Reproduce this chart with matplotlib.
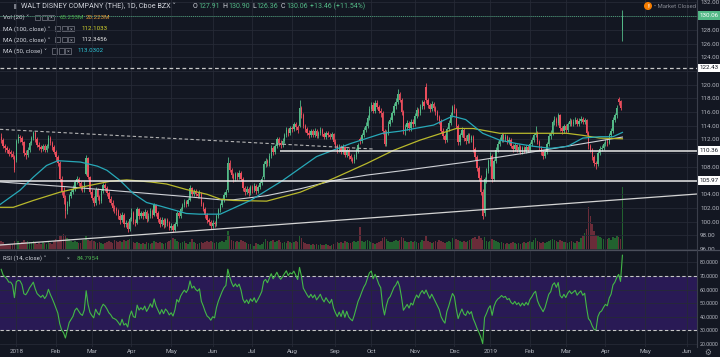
import numpy as np
import pandas as pd
import matplotlib
matplotlib.use("Agg")
import matplotlib.pyplot as plt
from matplotlib.patches import Rectangle
from matplotlib.lines import Line2D
from matplotlib.transforms import blended_transform_factory

plt.rcParams['font.family'] = ['Roboto', 'DejaVu Sans']

# ---------------- data (daily bars, 2017-12-19 .. 2019-04-12) ----------------
opens = [112.4, 111.9, 111.0, 110.7, 110.4, 110.1, 109.9, 109.5, 109.0, 111.8,
         112.3, 112.2, 111.6, 110.0, 109.8, 110.5, 111.5, 112.2, 113.0, 112.0,
         111.2, 110.9, 110.6, 111.0, 110.5, 111.0, 112.2, 111.5, 110.9, 110.2,
         109.4, 108.5, 106.2, 104.4, 103.5, 101.5, 102.6, 103.8, 104.3, 104.8,
         105.8, 106.2, 105.6, 105.0, 104.7, 107.0, 109.3, 106.5, 104.4, 103.5,
         102.8, 104.6, 103.6, 103.0, 104.5, 105.3, 104.9, 104.2, 103.3, 102.8,
         102.0, 101.8, 101.5, 100.9, 100.2, 101.0, 99.6, 99.8, 98.9, 100.4,
         101.2, 100.0, 99.8, 101.8, 100.8, 101.2, 100.8, 101.4, 100.4, 100.9,
         101.6, 101.0, 102.4, 101.2, 100.4, 99.6, 100.3, 99.5, 100.2, 99.8,
         99.1, 99.4, 98.8, 99.6, 101.2, 100.8, 101.8, 102.4, 102.9, 102.6,
         103.2, 104.9, 104.0, 104.4, 104.0, 103.8, 104.2, 102.6, 101.9, 101.0,
         100.2, 99.9, 99.4, 99.8, 99.6, 100.8, 101.7, 102.4, 103.2, 103.9,
         104.6, 108.6, 107.6, 106.8, 106.2, 106.9, 106.5, 107.1, 106.3, 104.9,
         104.3, 104.8, 104.2, 105.0, 104.6, 105.2, 104.5, 105.0, 105.6, 106.5,
         108.4, 108.9, 108.5, 109.6, 110.8, 110.2, 111.0, 112.0, 111.5, 111.2,
         111.8, 112.6, 113.4, 112.9, 113.6, 113.5, 114.2, 113.8, 114.0, 116.6,
         115.6, 114.0, 113.5, 113.0, 112.6, 113.2, 112.7, 113.2, 112.5, 112.9,
         113.4, 112.8, 112.4, 113.0, 112.6, 112.3, 112.8, 111.7, 111.0, 110.4,
         110.9, 110.2, 110.9, 109.8, 110.5, 109.6, 109.2, 108.9, 109.5, 110.3,
         112.1, 111.8, 112.6, 113.4, 114.0, 115.2, 116.5, 117.0, 116.2, 117.3,
         116.8, 116.2, 115.8, 113.2, 111.4, 113.0, 114.3, 114.8, 115.8, 116.9,
         117.5, 118.6, 117.8, 116.0, 113.2, 113.8, 114.4, 113.6, 114.6, 114.2,
         115.4, 116.3, 115.8, 116.8, 117.4, 119.6, 117.7, 117.0, 116.4, 117.2,
         116.6, 116.0, 115.3, 114.7, 113.3, 112.5, 111.9, 113.5, 114.4, 115.6,
         116.8, 116.3, 114.0, 111.6, 112.6, 113.4, 112.2, 111.8, 112.6, 111.9,
         112.3, 110.6, 109.4, 107.8, 106.4, 104.4, 101.2, 106.3, 107.4, 108.8,
         109.6, 106.2, 108.9, 110.5, 111.4, 111.9, 112.6, 112.1, 112.4, 111.6,
         111.9, 111.0, 110.6, 111.2, 110.5, 110.9, 110.2, 110.8, 110.3, 110.9,
         110.4, 111.4, 111.9, 112.6, 113.0, 111.6, 110.8, 110.2, 109.6, 110.2,
         111.3, 112.5, 113.0, 114.5, 115.0, 114.4, 115.5, 113.6, 113.2, 113.9,
         113.4, 114.2, 114.7, 114.3, 114.6, 114.9, 114.3, 114.7, 115.0, 114.5,
         114.8, 113.0, 111.0, 110.5, 109.4, 108.5, 108.4, 110.0, 110.6, 110.8,
         111.3, 111.7, 111.5, 112.6, 113.2, 114.9, 115.5, 117.9, 117.6, 127.91]

highs = [112.9, 112.2, 111.4, 111.1, 110.7, 110.5, 110.3, 109.7, 112.0, 112.8,
         112.7, 112.5, 111.8, 110.4, 110.9, 111.8, 112.5, 113.3, 113.2, 112.3,
         111.6, 111.2, 111.4, 111.3, 111.4, 112.6, 112.5, 111.8, 111.2, 110.5,
         109.7, 108.8, 106.6, 105.0, 103.9, 103.0, 104.1, 104.8, 105.3, 106.1,
         106.6, 106.5, 105.9, 105.3, 105.9, 109.8, 109.5, 106.7, 104.8, 103.8,
         105.0, 104.9, 103.9, 104.8, 105.7, 105.6, 105.2, 104.5, 103.7, 103.1,
         102.4, 102.1, 101.8, 101.2, 101.4, 101.3, 100.3, 100.1, 100.7, 102.0,
         101.5, 100.4, 102.1, 102.0, 101.6, 101.5, 101.8, 101.7, 101.3, 102.0,
         101.9, 102.7, 102.6, 101.5, 100.7, 100.7, 100.6, 100.6, 100.5, 100.1,
         99.8, 99.7, 99.9, 101.5, 101.6, 102.1, 102.8, 103.3, 103.2, 103.5,
         105.3, 105.1, 104.8, 104.7, 104.3, 104.6, 104.4, 102.9, 102.1, 101.3,
         100.6, 100.2, 100.2, 100.1, 101.1, 102.0, 102.7, 103.5, 104.3, 104.7,
         109.4, 109.0, 107.9, 107.1, 107.3, 107.2, 107.5, 107.4, 106.5, 105.2,
         105.2, 105.1, 105.4, 105.3, 105.6, 105.5, 105.4, 106.0, 106.7, 108.8,
         109.3, 109.2, 110.0, 111.2, 111.1, 111.4, 112.4, 112.3, 111.9, 112.2,
         113.0, 113.8, 113.7, 114.0, 114.0, 114.6, 114.5, 114.1, 117.8, 116.9,
         115.9, 114.3, 113.8, 113.4, 113.5, 113.5, 113.6, 113.5, 113.3, 113.8,
         113.7, 113.1, 113.3, 113.3, 112.9, 113.1, 113.0, 112.0, 111.3, 111.3,
         111.2, 111.3, 111.1, 110.8, 110.8, 109.9, 109.5, 109.9, 110.7, 111.5,
         112.4, 113.0, 113.8, 114.5, 115.6, 116.9, 117.5, 117.4, 117.8, 117.7,
         117.1, 116.6, 116.1, 113.5, 113.4, 114.7, 115.3, 116.2, 117.3, 118.0,
         119.4, 118.9, 118.1, 116.3, 114.3, 114.9, 114.7, 115.0, 115.0, 115.8,
         116.7, 116.6, 117.2, 117.8, 117.7, 120.2, 118.0, 117.3, 117.6, 117.5,
         116.9, 116.3, 115.6, 115.0, 113.6, 112.8, 113.8, 114.8, 116.0, 117.1,
         117.2, 116.6, 114.3, 113.0, 113.8, 113.7, 112.6, 113.0, 112.9, 112.7,
         112.6, 110.9, 109.8, 108.1, 106.8, 104.7, 106.5, 107.8, 109.1, 110.1,
         109.9, 109.2, 110.9, 111.8, 112.3, 113.0, 112.9, 112.8, 112.7, 112.3,
         112.2, 111.3, 111.5, 111.4, 111.3, 111.2, 111.1, 111.1, 111.2, 111.2,
         111.7, 112.3, 113.0, 114.0, 113.3, 111.9, 111.1, 110.5, 110.5, 111.6,
         112.9, 113.4, 114.9, 115.4, 115.3, 115.9, 115.7, 113.9, 114.3, 114.2,
         114.6, 115.1, 115.0, 115.0, 115.3, 115.2, 115.1, 115.4, 115.3, 115.2,
         115.0, 113.3, 111.4, 110.8, 109.7, 108.9, 110.3, 111.0, 111.2, 111.7,
         112.0, 112.0, 112.9, 113.6, 115.3, 115.9, 117.0, 118.2, 117.8, 130.90]

lows = [111.5, 110.7, 110.2, 110.0, 109.6, 109.5, 109.1, 107.2, 108.7, 111.5,
        111.7, 111.2, 109.6, 109.2, 109.5, 110.2, 111.2, 111.9, 111.7, 110.9,
        110.5, 110.2, 110.3, 110.1, 110.2, 110.8, 111.2, 110.5, 109.9, 108.9,
        108.1, 105.8, 103.9, 102.6, 100.6, 101.1, 102.3, 103.4, 104.0, 104.5,
        105.5, 105.2, 104.6, 104.3, 104.4, 106.8, 106.2, 104.0, 103.1, 102.3,
        102.5, 103.2, 102.6, 102.7, 104.2, 104.5, 103.8, 102.9, 102.4, 101.6,
        101.3, 101.0, 100.4, 99.7, 99.9, 99.2, 99.2, 98.5, 98.6, 100.1,
        99.6, 99.3, 99.6, 100.4, 100.5, 100.4, 100.5, 100.0, 100.1, 100.6,
        100.6, 100.8, 100.9, 100.0, 99.2, 99.3, 99.1, 99.2, 99.4, 98.8,
        98.8, 98.5, 98.6, 99.4, 100.5, 100.6, 101.5, 102.1, 102.2, 102.3,
        103.0, 103.7, 103.7, 103.7, 103.4, 103.5, 102.3, 101.5, 100.6, 99.8,
        99.5, 99.0, 99.1, 99.2, 99.4, 100.5, 101.4, 102.1, 102.9, 103.6,
        104.4, 107.2, 106.4, 105.8, 105.9, 106.1, 106.2, 105.9, 104.5, 103.9,
        104.0, 103.8, 103.9, 104.2, 104.3, 104.1, 104.2, 104.7, 105.3, 106.2,
        108.0, 108.1, 108.2, 109.3, 109.8, 109.9, 110.7, 111.1, 110.8, 110.9,
        111.5, 112.3, 112.5, 112.6, 113.1, 113.2, 113.4, 113.0, 113.8, 115.2,
        113.6, 113.1, 112.6, 112.2, 112.3, 112.4, 112.4, 112.2, 112.2, 112.6,
        112.5, 112.0, 112.1, 112.3, 112.0, 112.0, 111.4, 110.7, 110.0, 110.1,
        109.9, 109.9, 109.5, 109.5, 109.2, 108.9, 108.6, 108.6, 109.2, 110.0,
        111.4, 111.5, 112.3, 113.1, 113.7, 114.9, 116.1, 115.8, 115.9, 116.4,
        115.8, 115.3, 112.8, 111.0, 111.1, 112.7, 113.9, 114.5, 115.5, 116.5,
        117.2, 117.4, 115.6, 112.8, 112.6, 113.4, 113.2, 113.3, 113.8, 113.9,
        115.1, 115.4, 115.5, 116.4, 116.5, 117.3, 116.6, 116.0, 116.1, 116.2,
        115.6, 114.9, 114.3, 112.9, 112.1, 111.5, 111.7, 113.2, 114.1, 115.3,
        115.9, 113.6, 111.2, 111.2, 112.3, 111.8, 111.4, 111.5, 111.5, 111.6,
        110.2, 109.0, 107.4, 105.9, 103.9, 100.4, 100.9, 105.6, 107.1, 108.2,
        105.8, 106.0, 108.6, 110.2, 111.0, 111.6, 111.7, 111.8, 111.3, 111.3,
        110.7, 110.2, 110.3, 110.1, 110.2, 109.9, 109.9, 110.0, 110.0, 110.1,
        110.1, 111.1, 111.6, 112.3, 111.3, 110.4, 109.8, 109.2, 109.3, 109.9,
        111.0, 112.1, 112.7, 114.1, 114.0, 114.1, 113.2, 112.8, 112.9, 113.0,
        113.1, 113.9, 113.9, 114.0, 114.3, 114.0, 114.0, 114.4, 114.2, 114.2,
        112.6, 110.6, 110.1, 109.0, 108.1, 107.7, 108.2, 109.7, 110.3, 110.5,
        111.0, 111.1, 111.3, 112.3, 113.0, 114.6, 115.2, 117.0, 116.3, 126.36]

closes = [111.9, 111.0, 110.7, 110.4, 109.9, 109.9, 109.5, 107.5, 111.8, 112.3,
          112.2, 111.6, 110.0, 109.8, 110.5, 111.5, 112.2, 113.0, 112.0, 111.2,
          110.9, 110.6, 111.0, 110.5, 111.0, 112.2, 111.5, 110.9, 110.2, 109.4,
          108.5, 106.2, 104.4, 103.5, 101.5, 102.6, 103.8, 104.3, 104.8, 105.8,
          106.2, 105.6, 105.0, 104.7, 105.5, 109.3, 106.5, 104.4, 103.5, 102.8,
          104.6, 103.6, 103.0, 104.5, 105.3, 104.9, 104.2, 103.3, 102.8, 102.0,
          101.8, 101.5, 100.9, 100.2, 101.0, 99.6, 99.8, 98.9, 100.4, 101.2,
          100.0, 99.8, 101.8, 100.8, 101.2, 100.8, 101.4, 100.4, 100.9, 101.6,
          101.0, 102.4, 101.2, 100.4, 99.6, 100.3, 99.5, 100.2, 99.8, 99.1,
          99.4, 98.8, 99.6, 101.2, 100.8, 101.8, 102.4, 102.9, 102.6, 103.2,
          104.9, 104.0, 104.4, 104.0, 103.8, 104.2, 102.6, 101.9, 101.0, 100.2,
          99.9, 99.4, 99.8, 99.6, 100.8, 101.7, 102.4, 103.2, 103.9, 104.3,
          108.6, 107.6, 106.8, 106.2, 106.9, 106.5, 107.1, 106.3, 104.9, 104.3,
          104.8, 104.2, 105.0, 104.6, 105.2, 104.5, 105.0, 105.6, 106.3, 108.4,
          108.9, 108.5, 109.6, 110.8, 110.2, 111.0, 112.0, 111.5, 111.2, 111.8,
          112.6, 113.4, 112.9, 113.6, 113.5, 114.2, 113.8, 113.4, 116.6, 115.6,
          114.0, 113.5, 113.0, 112.6, 113.2, 112.7, 113.2, 112.5, 112.9, 113.4,
          112.8, 112.4, 113.0, 112.6, 112.3, 112.8, 111.7, 111.0, 110.4, 110.9,
          110.2, 110.9, 109.8, 110.5, 109.6, 109.2, 108.9, 109.5, 110.3, 111.2,
          111.8, 112.6, 113.4, 114.0, 115.2, 116.5, 117.0, 116.2, 117.3, 116.8,
          116.2, 115.8, 113.2, 111.4, 113.0, 114.3, 114.8, 115.8, 116.9, 117.5,
          118.6, 117.8, 116.0, 113.2, 113.8, 114.4, 113.6, 114.6, 114.2, 115.4,
          116.3, 115.8, 116.8, 117.4, 116.9, 117.7, 117.0, 116.4, 117.2, 116.6,
          116.0, 115.3, 114.7, 113.3, 112.5, 111.9, 113.5, 114.4, 115.6, 116.8,
          116.3, 114.0, 111.6, 112.6, 113.4, 112.2, 111.8, 112.6, 111.9, 112.3,
          110.6, 109.4, 107.8, 106.4, 104.4, 100.9, 106.3, 107.4, 108.8, 109.6,
          106.2, 108.9, 110.5, 111.4, 111.9, 112.6, 112.1, 112.4, 111.6, 111.9,
          111.0, 110.6, 111.2, 110.5, 110.9, 110.2, 110.8, 110.3, 110.9, 110.4,
          111.4, 111.9, 112.6, 113.0, 111.6, 110.8, 110.2, 109.6, 110.2, 111.3,
          112.5, 113.0, 114.5, 115.0, 114.4, 115.5, 113.6, 113.2, 113.9, 113.4,
          114.2, 114.7, 114.3, 114.6, 114.9, 114.3, 114.7, 115.0, 114.5, 114.8,
          113.0, 111.0, 110.5, 109.4, 108.5, 108.4, 110.0, 110.6, 110.8, 111.3,
          111.7, 111.5, 112.6, 113.2, 114.9, 115.5, 116.6, 117.4, 116.6, 130.06]

volumes_m = [9, 8, 6, 5, 6, 5, 6, 9,
             11, 9, 7, 8, 10, 8, 9, 8, 7, 9, 7, 6, 7, 6, 8, 7, 6, 8, 7, 6, 9, 11, 10,
             14, 15, 17, 16, 12, 11, 9, 8, 9, 8, 7, 7, 10, 10, 15, 10, 9, 10,
             9, 8, 7, 8, 7, 6, 7, 8, 9, 8, 7, 10, 9, 8, 9, 8, 10, 9, 10, 11,
             9, 8, 7, 8, 7, 6, 7, 6, 8, 7, 6, 7, 9, 8, 7, 8, 7, 6, 7, 8, 9,
             10, 12, 11, 9, 8, 7, 8, 9, 7, 6, 8, 11, 8, 7, 6, 7, 8, 7, 8, 9, 8, 9,
             8, 7, 8, 7, 8, 9, 8, 10, 20, 15, 10, 9, 8, 9, 8, 10, 9, 8, 7, 6, 6,
             5, 4, 7, 6, 5, 6, 8, 11, 9, 8, 9, 10, 8, 9, 10, 8, 7, 8, 7, 9, 8,
             7, 8, 9, 8, 14, 12, 8, 7, 6, 6, 5, 6, 5, 6, 5, 6, 5, 5, 6, 5, 4, 5, 6,
             7, 8, 7, 8, 7, 9, 8, 7, 7, 8, 9, 8, 9, 24, 9, 8, 9, 10, 9,
             8, 7, 6, 7, 8, 9, 12, 13, 11, 9, 8, 8, 9, 10, 9, 10, 13, 12, 9, 8, 8, 9, 8,
             9, 8, 7, 8, 10, 9, 15, 9, 8, 7, 8, 9, 8, 10, 9, 8, 7, 8, 9, 8, 12,
             10, 11, 10, 9, 8, 9, 8, 9, 10, 11, 12, 13, 11, 14, 12, 10, 13, 9, 8,
             9, 11, 10, 9, 8, 7, 8, 7, 6, 7, 6, 7, 8, 7, 6, 7, 6, 7, 8, 7, 8,
             9, 8, 10, 12, 9, 8, 7, 8, 7, 8, 9, 10, 11, 10, 9, 8, 10, 9, 8,
             8, 7, 8, 9, 8, 7, 9, 8, 12, 14, 18, 22, 45, 35, 27, 20, 16, 15, 13, 12, 11,
             10, 11, 12, 10, 13, 12, 14, 13, 11, 65.25]

# closes before the first visible bar (RSI warm-up only)
pre_closes = [101.6, 102.8, 104.3, 105.2, 104.6, 105.0, 104.8, 106.9, 105.8,
              104.0, 104.5, 105.3, 107.7, 108.4, 109.0, 107.9, 109.4, 112.4]

# moving averages (bar index, value)
ma50_idx = [-0.64, 10, 17, 24, 30, 42, 51, 56, 63, 70, 77, 84, 93, 98, 105, 116,
            132, 149, 167, 185, 202, 211, 229, 239, 246, 255, 264, 273, 282, 291,
            300, 308, 317, 324, 329]
ma50_val = [102.5, 104.6, 106.5, 108.2, 108.9, 108.7, 108.1, 107.5, 106.0, 104.1,
            102.8, 102.3, 101.6, 101.2, 101.1, 101.1, 103.1, 106.0, 109.5, 111.4,
            112.9, 113.2, 114.1, 115.4, 114.9, 112.9, 111.9, 111.4, 111.0, 110.7,
            111.0, 112.2, 112.4, 112.4, 113.03]
ma100_idx = [-0.64, 6.4, 17, 31, 43.5, 57.6, 66.5, 79, 87.6, 98, 109, 116, 123,
             140.6, 158.3, 175.9, 193.6, 207.7, 221.8, 241, 250, 264, 282, 299.5,
             308, 317, 329]
ma100_val = [102.1, 102.1, 103.1, 104.3, 105.1, 105.9, 106.1, 105.8, 105.5, 104.7,
             104.0, 103.3, 103.1, 103.0, 104.3, 106.3, 108.5, 110.4, 111.9, 113.6,
             113.6, 112.9, 112.9, 112.9, 112.6, 112.2, 112.10]
ma200_idx = [-0.64, 34.7, 70, 96.5, 116, 123, 140.6, 158.3, 175.9, 193.6, 211,
             246.5, 281.8, 299.5, 317, 329]
ma200_val = [105.8, 105.1, 104.3, 103.7, 103.2, 103.2, 103.8, 104.8, 106.0, 106.8,
             107.4, 108.7, 110.2, 111.0, 111.8, 112.35]

# drawn levels / trendlines
level_dashed = 122.43
level_110 = 110.36
level_110_start = 147.7
level_106 = 105.97
last_price = 130.06
trend_up_idx = [-0.64, 368.5]
trend_up_val = [96.6, 104.04]
trend_dn_idx = [-0.64, 196.9]
trend_dn_val = [113.48, 110.61]

holidays = ['2017-12-25', '2018-01-01', '2018-01-15', '2018-02-19', '2018-03-30',
            '2018-05-28', '2018-07-04', '2018-09-03', '2018-11-22', '2018-12-05',
            '2018-12-25', '2019-01-01', '2019-01-21', '2019-02-18', '2019-04-19',
            '2019-05-27']
month_labels = ['2018', 'Feb', 'Mar', 'Apr', 'May', 'Jun', 'Jul', 'Aug', 'Sep',
                'Oct', 'Nov', 'Dec', '2019', 'Feb', 'Mar', 'Apr', 'May', 'Jun']
price_ticks = list(range(96, 133, 2))
rsi_ticks = [20, 30, 40, 50, 60, 70, 80]

# ---------------- styling ----------------
W, H = 720, 357
BG = '#131722'
GRID = '#262a36'
TXT = '#b2b5be'
UP = '#53b987'
DN = '#eb4d5c'
VUP = '#22622f'
VDN = '#6a2c39'
C50 = '#27a9b8'
C100 = '#b9b92c'
C200 = '#cfd1d6'
RSI_C = '#43b847'
BAND = '#291a55'

days = pd.bdate_range('2017-12-19', '2019-06-28')
days = days[~days.isin(pd.to_datetime(holidays))]
month_pos = []
prev = None
for k, d in enumerate(days):
    key = (d.year, d.month)
    if prev is not None and key != prev:
        month_pos.append(k)
    prev = key
month_pos = month_pos[:len(month_labels)]

n = len(closes)
idx = np.arange(n)
o = np.array(opens); c = np.array(closes); h = np.array(highs); l = np.array(lows)
up = c >= o

# RSI (14, Wilder)
allc = np.array(pre_closes + closes, dtype=float)
dlt = np.diff(allc)
gain = np.where(dlt > 0, dlt, 0.0)
loss = np.where(dlt < 0, -dlt, 0.0)
N = 14
rsi_all = np.full(len(allc), np.nan)
ag, al = gain[:N].mean(), loss[:N].mean()
rsi_all[N] = 100 - 100 / (1 + ag / al)
for k in range(N + 1, len(allc)):
    ag = (ag * (N - 1) + gain[k - 1]) / N
    al = (al * (N - 1) + loss[k - 1]) / N
    rsi_all[k] = 100 - 100 / (1 + ag / al)
rsi = rsi_all[len(pre_closes):]

XL = (-0.64, 368.5)
AXR = 697

fig = plt.figure(figsize=(7.2, 3.57), dpi=100, facecolor=BG)

def fx(px):
    return px / W

def fy(py):
    return 1 - py / H

rect_p = [0, fy(250), AXR / W, 250 / H]
ax_v = fig.add_axes(rect_p)
ax_p = fig.add_axes(rect_p, sharex=ax_v)
ax_r = fig.add_axes([0, fy(347), AXR / W, 97 / H], sharex=ax_v)
ax_v.set_zorder(0); ax_p.set_zorder(1); ax_r.set_zorder(1)
ax_v.set_facecolor(BG)
ax_p.patch.set_visible(False)
ax_r.set_facecolor(BG)

for ax in (ax_v, ax_p, ax_r):
    for s in ax.spines.values():
        s.set_visible(False)

ax_v.set_xlim(*XL)

# volume
ax_v.bar(idx, volumes_m, width=0.85, color=np.where(up, VUP, VDN), linewidth=0)
ax_v.set_ylim(0, 65.25 * 250 / 63)
ax_v.set_xticks([]); ax_v.set_yticks([])

# price pane
box_levels = [last_price, level_dashed, level_110, level_106]
ax_p.set_ylim(95.87, 132.35)
ax_p.set_yticks(price_ticks)
ax_p.set_yticklabels(['' if min(abs(v - b) for b in box_levels) < 1.2 else f'{v:.2f}'
                      for v in price_ticks])
ax_p.yaxis.tick_right()
ax_p.tick_params(axis='y', colors=TXT, labelsize=4.5, length=0, pad=2.2)
ax_p.set_xticks(month_pos)
ax_p.tick_params(axis='x', labelbottom=False, length=0)
ax_p.grid(True, color=GRID, linewidth=0.6)
ax_p.set_axisbelow(True)

cols = np.where(up, UP, DN)
ax_p.vlines(idx, l, h, colors=cols, linewidth=0.6, zorder=3)
ax_p.bar(idx, np.maximum(np.abs(c - o), 0.06), bottom=np.minimum(o, c), width=0.72,
         color=cols, linewidth=0, zorder=4)

ax_p.plot(ma200_idx, ma200_val, color=C200, lw=0.8, zorder=5)
ax_p.plot(ma100_idx, ma100_val, color=C100, lw=0.9, zorder=5)
ax_p.plot(ma50_idx, ma50_val, color=C50, lw=0.9, zorder=5)

ax_p.axhline(level_dashed, color='#c8c8c8', lw=0.9, dashes=(3, 2.2), zorder=6)
ax_p.hlines(level_110, level_110_start, XL[1], color='#e8e8e8', lw=1.1, zorder=6)
ax_p.axhline(level_106, color='#e8e8e8', lw=1.1, zorder=6)
ax_p.plot(trend_up_idx, trend_up_val, color='#d4d4d4', lw=0.9, zorder=6)
ax_p.plot(trend_dn_idx, trend_dn_val, color='#b4b4b4', lw=0.8, dashes=(3, 2.2), zorder=6)
ax_p.axhline(last_price, color=UP, lw=0.7, dashes=(1, 1), alpha=0.8, zorder=6)

tb = blended_transform_factory(ax_p.transAxes, ax_p.transData)
for val, fc, tc in [(last_price, UP, 'white'), (level_dashed, 'white', BG),
                    (level_110, 'white', BG), (level_106, 'white', BG)]:
    ax_p.text(1 + 3.0 / AXR, val, f'{val:.2f}', transform=tb, ha='left', va='center',
              fontsize=4.5, color=tc, clip_on=False, zorder=10,
              bbox=dict(boxstyle='square,pad=0.3', fc=fc, ec='none'))

# RSI pane
ax_r.set_ylim(17.7, 89.15)
ax_r.axhspan(30, 70, color=BAND, zorder=0.1, linewidth=0)
ax_r.set_yticks(rsi_ticks)
ax_r.set_yticklabels([f'{v:.4f}' for v in rsi_ticks])
ax_r.yaxis.tick_right()
ax_r.tick_params(axis='y', colors=TXT, labelsize=3.9, length=0, pad=1.8)
ax_r.set_xticks(month_pos)
ax_r.set_xticklabels(month_labels)
ax_r.tick_params(axis='x', colors=TXT, labelsize=4.5, length=0, pad=1.3)
ax_r.grid(True, color=GRID, linewidth=0.6)
ax_r.set_axisbelow(True)
ax_r.axhline(70, color='#c8c8c8', lw=0.8, dashes=(3, 2.2), zorder=2)
ax_r.axhline(30, color='#c8c8c8', lw=0.8, dashes=(3, 2.2), zorder=2)
ax_r.plot(idx, rsi, color=RSI_C, lw=0.8, zorder=3)
ax_v.set_xlim(*XL)

# separators / axis border
fig.add_artist(Line2D([0, 1], [fy(250), fy(250)], transform=fig.transFigure,
                      color='#4a4e5a', lw=0.9))
fig.add_artist(Line2D([fx(AXR), fx(AXR)], [fy(0), fy(347)], transform=fig.transFigure,
                      color='#3a3e4a', lw=0.8))

# ---------------- header / legends ----------------
WHITE = '#d1d4dc'
renderer = fig.canvas.get_renderer()

def ftext(x, y, s, color=WHITE, size=4.4, **kw):
    return fig.text(fx(x), fy(y), s, color=color, fontsize=size, ha='left',
                    va='center', **kw)

def seq_text(x, y, pieces, size):
    for s, col, gap in pieces:
        t = ftext(x, y, s, color=col, size=size)
        x += t.get_window_extent(renderer).width + gap
    return x

def icons(x0, yc):
    for k in range(3):
        fig.add_artist(Rectangle((fx(x0 + 6.6 * k), fy(yc + 2.7)), 5.4 / W, 5.4 / H,
                                 transform=fig.transFigure, fc='none', ec='#787b86', lw=0.5))
    fig.text(fx(x0 + 15.9), fy(yc), '\u00d7', color='#9598a1', fontsize=3.8,
             ha='center', va='center')

fig.add_artist(Rectangle((fx(13.5), fy(8.5)), 3.5 / W, 5 / H, transform=fig.transFigure,
                         fc='#787b86', ec='none'))
ftext(21, 6, 'WALT DISNEY COMPANY (THE), 1D, Cboe BZX \u02c5', size=5.2)
seq_text(193.0, 6, [('O', WHITE, 0.6), ('127.91', UP, 2.6), ('H', WHITE, 0.6),
                    ('130.90', UP, 2.6), ('L', WHITE, 0.6), ('126.36', UP, 2.6),
                    ('C', WHITE, 0.6), ('130.06', UP, 2.6), ('+13.46 (+11.54%)', UP, 0)],
         size=5.0)

ftext(3, 17.3, 'Vol (20) \u02c5')
icons(35, 17.3)
ftext(60, 17.3, '65.253M', color='#4caf50')
ftext(86, 17.3, '20.223M', color='#e39c3c')

ftext(3, 28.7, 'MA (100, close) \u02c5')
icons(55, 28.7)
ftext(81, 28.7, '112.1033', color='#d4d42e')

ftext(3, 39.7, 'MA (200, close) \u02c5')
icons(55, 39.7)
ftext(81, 39.7, '112.3456', color='#e6e6e6')

ftext(3, 51, 'MA (50, close) \u02c5')
icons(52, 51)
ftext(77, 51, '113.0302', color='#2ec4d6')

ftext(3, 258, 'RSI (14, close) \u02c5')
icons(52, 258)
ftext(77, 258, '84.7954', color='#4caf50')

fig.text(fx(648), fy(6), '!', color='white', fontsize=4.4, ha='center', va='center',
         fontweight='bold', bbox=dict(boxstyle='circle,pad=0.25', fc='#f57c00', ec='none'))
ftext(654, 6, '\u2022 Market Closed', color='#868993', size=4.3)
fig.text(fx(708), fy(352), '\u2699', color='#9598a1', fontsize=5.5, ha='center',
         va='center', family=['DejaVu Sans'])

fig.savefig('out.png', dpi=100, facecolor=BG)
